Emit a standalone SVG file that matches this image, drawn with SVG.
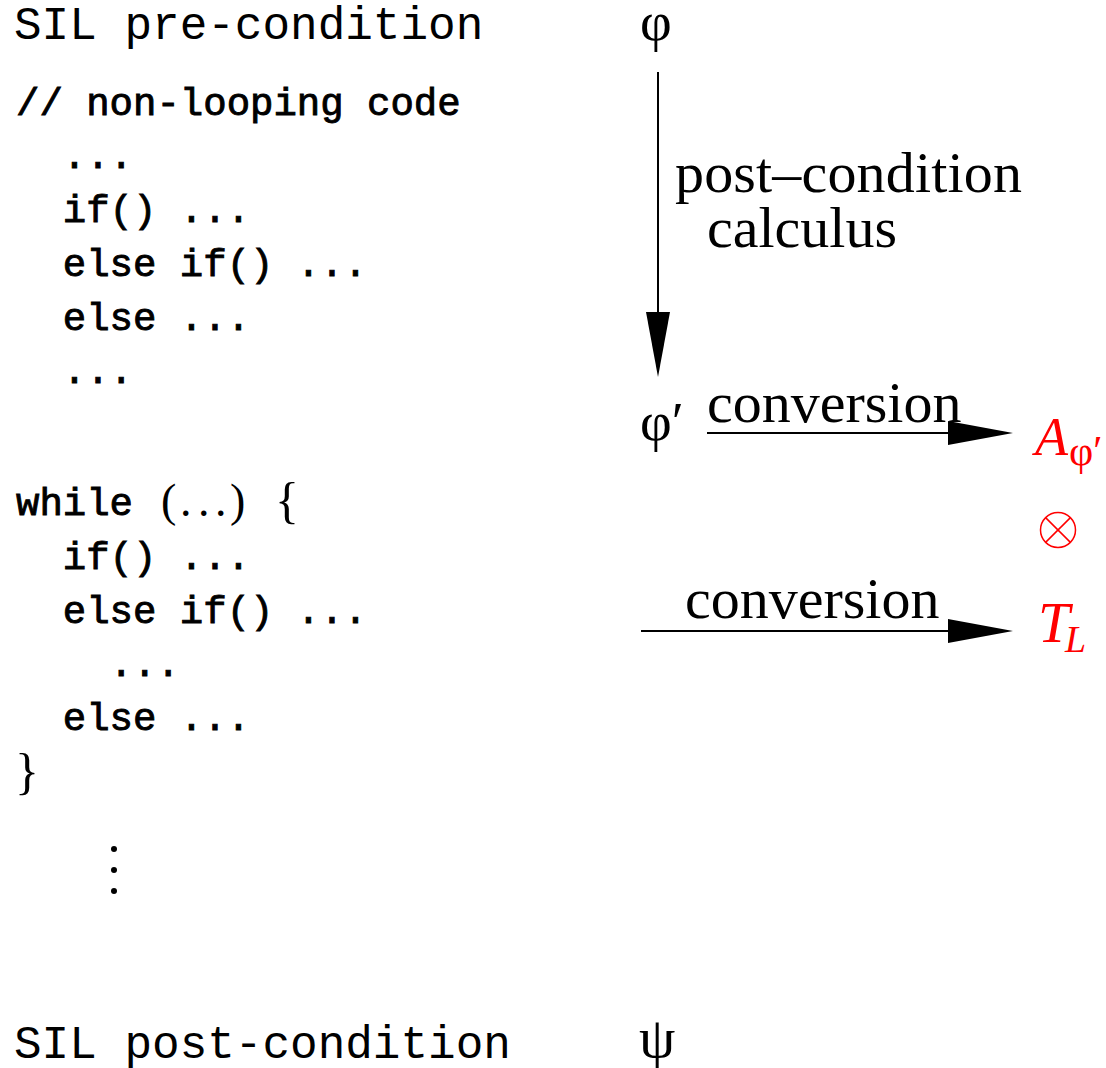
<svg xmlns="http://www.w3.org/2000/svg" width="1106" height="1068" viewBox="0 0 1106 1068">
  <style>
    .sil { font-family: "Liberation Mono", "Courier New", monospace; font-size: 46px; fill: #000; }
    .code { font-family: "Liberation Mono", "Courier New", monospace; font-size: 39px; fill: #000; stroke: #000; stroke-width: 0.9; white-space: pre; }
    .rm { font-family: "Liberation Serif", "Times New Roman", serif; fill: #000; }
    .lbl { font-family: "Liberation Serif", "Times New Roman", serif; font-size: 58px; fill: #000; }
    .math { font-family: "Liberation Serif", "Times New Roman", serif; font-style: italic; fill: #ff0000; }
    .wire { stroke: #000; stroke-width: 2; fill: none; }
  </style>
  <defs>
    <marker id="head" markerUnits="userSpaceOnUse" viewBox="0 0 65 24" markerWidth="65" markerHeight="24" refX="0" refY="12" orient="auto">
      <path d="M0,0 L65,12 L0,24 Z" fill="#000"/>
    </marker>
  </defs>
  <rect width="1106" height="1068" fill="#fff"/>

  <!-- program side -->
  <g id="sil-pre">
    <text class="sil" x="14" y="39">SIL pre-condition</text>
  </g>
  <g id="code-straight">
    <text class="code" x="16" y="115">// non-looping code</text>
    <text class="code" x="16" y="168" xml:space="preserve">  ...</text>
    <text class="code" x="16" y="222" xml:space="preserve">  if() ...</text>
    <text class="code" x="16" y="276" xml:space="preserve">  else if() ...</text>
    <text class="code" x="16" y="330" xml:space="preserve">  else ...</text>
    <text class="code" x="16" y="383" xml:space="preserve">  ...</text>
  </g>
  <g id="code-loop">
    <text class="code" x="16" y="515">while</text>
    <text class="rm" font-size="46" x="161 180 198 215 230" y="516">(...)</text>
    <text class="rm" font-size="50" x="275" y="517">{</text>
    <text class="code" x="16" y="569" xml:space="preserve">  if() ...</text>
    <text class="code" x="16" y="623" xml:space="preserve">  else if() ...</text>
    <text class="code" x="16" y="676" xml:space="preserve">    ...</text>
    <text class="code" x="16" y="730" xml:space="preserve">  else ...</text>
    <text class="rm" font-size="50" x="15" y="788">}</text>
  </g>
  <g id="vdots" fill="#000">
    <circle cx="114" cy="849" r="3"/>
    <circle cx="114" cy="870" r="3"/>
    <circle cx="114" cy="891" r="3"/>
  </g>
  <g id="sil-post">
    <text class="sil" x="14" y="1058">SIL post-condition</text>
  </g>

  <!-- formula side -->
  <g id="phi">
    <text class="rm" font-size="55" x="640" y="40">φ</text>
  </g>
  <g id="phi-prime">
    <text class="rm" font-size="55" x="640" y="440">φ′</text>
  </g>
  <g id="psi">
    <text class="rm" font-size="58" x="639" y="1057">ψ</text>
  </g>
  <g id="calculus-label">
    <text class="lbl" x="675" y="192" textLength="347" lengthAdjust="spacing">post–condition</text>
    <text class="lbl" x="707" y="247">calculus</text>
  </g>
  <g id="conversion-label-1">
    <text class="lbl" x="707" y="422">conversion</text>
  </g>
  <g id="conversion-label-2">
    <text class="lbl" x="685" y="618">conversion</text>
  </g>
  <g id="automaton">
    <text class="math" font-size="54" x="1035" y="455">A</text>
    <text class="rm" font-size="42" x="1069" y="465" style="fill:#ff0000">φ′</text>
  </g>
  <g id="product" stroke="#ff0000" stroke-width="1.5" fill="none">
    <circle cx="1058" cy="530" r="17.5"/>
    <line x1="1045.6" y1="517.6" x2="1070.4" y2="542.4"/>
    <line x1="1070.4" y1="517.6" x2="1045.6" y2="542.4"/>
  </g>
  <g id="transducer">
    <text class="math" font-size="57" x="1038" y="642">T</text>
    <text class="math" font-size="38" x="1065" y="652">L</text>
  </g>

  <g id="connectors">
    <line class="wire" x1="658" y1="72" x2="658" y2="312" marker-end="url(#head)"/>
    <line class="wire" x1="707" y1="433" x2="948" y2="433" marker-end="url(#head)"/>
    <line class="wire" x1="641" y1="631" x2="948" y2="631" marker-end="url(#head)"/>
  </g>
</svg>
